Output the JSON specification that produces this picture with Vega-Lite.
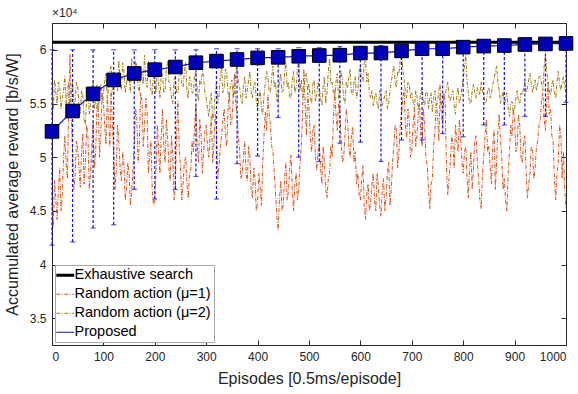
{
 "$schema": "https://vega.github.io/schema/vega-lite/v6.json",
 "width": 514, "height": 322,
 "autosize": "none",
 "padding": {"left": 52, "top": 23, "right": 12, "bottom": 49},
 "background": "white",
 "title": {"text": "×10⁴", "anchor": "start", "frame": "group", "fontSize": 12, "fontWeight": "normal", "color": "#262626", "offset": 3, "font": "Liberation Sans"},
 "config": {
  "font": "Liberation Sans",
  "view": {"stroke": "#262626", "strokeWidth": 1},
  "axis": {"grid": false, "labelFontSize": 12, "labelColor": "#262626", "titleFontSize": 16, "titleFontWeight": "normal", "titleColor": "#262626", "domainColor": "#262626", "tickColor": "#262626", "tickSize": -5, "labelPadding": 11, "labelFont": "Liberation Sans", "titleFont": "Liberation Sans"},
  "legend": {"orient": "none", "legendX": 3, "legendY": 242, "fillColor": "white", "strokeColor": "#a8a8a8", "padding": 3, "labelFontSize": 14.5, "labelColor": "#000000", "labelFont": "Liberation Sans", "symbolType": "stroke", "symbolSize": 320, "rowPadding": 4, "labelOffset": 2, "titlePadding": 0}
 },
 "datasets": {
  "rand": [
{"e":0,"a":4.55,"b":5.6},{"e":5,"a":4.78,"b":5.72},{"e":10,"a":4.42,"b":5.5},{"e":15,"a":4.9,"b":5.68},{"e":20,"a":4.65,"b":5.55},{"e":25,"a":5.2,"b":5.75},{"e":30,"a":4.8,"b":5.62},{"e":35,"a":5.96,"b":5.45},{"e":40,"a":5.05,"b":5.7},{"e":45,"a":4.82,"b":5.52},
{"e":50,"a":5.08,"b":5.65},{"e":55,"a":4.72,"b":5.4},{"e":60,"a":5.22,"b":5.58},{"e":65,"a":4.95,"b":5.3},{"e":70,"a":5.18,"b":5.62},{"e":75,"a":4.85,"b":5.48},{"e":80,"a":5.32,"b":5.7},{"e":85,"a":5.05,"b":5.55},{"e":90,"a":5.45,"b":5.42},{"e":95,"a":5.22,"b":5.68},
{"e":100,"a":5.52,"b":5.6},{"e":105,"a":5.12,"b":5.78},{"e":110,"a":5.38,"b":5.65},{"e":115,"a":5.62,"b":5.85},{"e":120,"a":5.05,"b":5.58},{"e":125,"a":4.88,"b":5.72},{"e":130,"a":5.15,"b":5.9},{"e":135,"a":4.78,"b":5.62},{"e":140,"a":4.92,"b":5.8},{"e":145,"a":4.72,"b":5.68},
{"e":150,"a":4.85,"b":5.75},{"e":155,"a":4.68,"b":5.92},{"e":160,"a":5.1,"b":5.7},{"e":165,"a":5.38,"b":5.85},{"e":170,"a":5.15,"b":5.6},{"e":175,"a":5.52,"b":5.78},{"e":180,"a":5.28,"b":5.95},{"e":185,"a":5.45,"b":5.65},{"e":190,"a":5.02,"b":5.82},{"e":195,"a":4.7,"b":5.58},
{"e":200,"a":4.6,"b":5.7},{"e":205,"a":5.3,"b":5.85},{"e":210,"a":4.85,"b":5.55},{"e":215,"a":5.45,"b":5.78},{"e":220,"a":4.95,"b":5.62},{"e":225,"a":5.18,"b":5.9},{"e":230,"a":4.78,"b":5.68},{"e":235,"a":5.0,"b":5.5},{"e":240,"a":4.72,"b":5.75},{"e":245,"a":5.52,"b":5.6},
{"e":250,"a":4.9,"b":5.82},{"e":255,"a":4.75,"b":5.65},{"e":260,"a":5.0,"b":5.88},{"e":265,"a":4.62,"b":5.55},{"e":270,"a":4.88,"b":5.72},{"e":275,"a":5.05,"b":5.6},{"e":280,"a":5.48,"b":5.8},{"e":285,"a":4.95,"b":5.52},{"e":290,"a":5.22,"b":5.68},{"e":295,"a":5.05,"b":5.75},
{"e":300,"a":5.3,"b":5.55},{"e":305,"a":5.0,"b":5.38},{"e":310,"a":5.38,"b":5.6},{"e":315,"a":5.12,"b":5.42},{"e":320,"a":5.25,"b":5.7},{"e":325,"a":4.92,"b":5.58},{"e":330,"a":5.2,"b":5.85},{"e":335,"a":5.45,"b":5.65},{"e":340,"a":5.1,"b":5.78},{"e":345,"a":5.6,"b":5.55},
{"e":350,"a":5.35,"b":5.72},{"e":355,"a":5.78,"b":5.6},{"e":360,"a":5.4,"b":5.88},{"e":365,"a":5.05,"b":5.65},{"e":370,"a":4.85,"b":5.5},{"e":375,"a":5.15,"b":5.75},{"e":380,"a":4.78,"b":5.62},{"e":385,"a":5.0,"b":5.8},{"e":390,"a":4.62,"b":5.55},{"e":395,"a":4.8,"b":5.7},
{"e":400,"a":4.58,"b":5.45},{"e":405,"a":4.72,"b":5.62},{"e":410,"a":4.95,"b":5.4},{"e":415,"a":5.42,"b":5.68},{"e":420,"a":5.58,"b":5.75},{"e":425,"a":5.3,"b":5.6},{"e":430,"a":5.05,"b":5.85},{"e":435,"a":4.65,"b":5.7},{"e":440,"a":4.32,"b":5.55},{"e":445,"a":4.78,"b":5.78},
{"e":450,"a":4.55,"b":5.62},{"e":455,"a":4.95,"b":5.88},{"e":460,"a":4.68,"b":5.7},{"e":465,"a":5.02,"b":5.55},{"e":470,"a":4.5,"b":5.8},{"e":475,"a":4.85,"b":5.65},{"e":480,"a":4.7,"b":5.9},{"e":485,"a":5.1,"b":5.72},{"e":490,"a":5.82,"b":5.6},{"e":495,"a":5.2,"b":5.78},
{"e":500,"a":5.45,"b":5.68},{"e":505,"a":5.05,"b":5.5},{"e":510,"a":5.3,"b":5.72},{"e":515,"a":4.88,"b":5.58},{"e":520,"a":5.12,"b":5.65},{"e":525,"a":4.75,"b":5.48},{"e":530,"a":4.95,"b":5.75},{"e":535,"a":4.62,"b":5.6},{"e":540,"a":4.85,"b":5.92},{"e":545,"a":5.0,"b":5.7},
{"e":550,"a":5.62,"b":5.55},{"e":555,"a":5.25,"b":5.78},{"e":560,"a":5.45,"b":5.6},{"e":565,"a":4.95,"b":5.72},{"e":570,"a":5.2,"b":5.5},{"e":575,"a":5.35,"b":5.65},{"e":580,"a":5.0,"b":5.82},{"e":585,"a":5.28,"b":5.58},{"e":590,"a":5.05,"b":5.75},{"e":595,"a":4.85,"b":5.62},
{"e":600,"a":4.6,"b":5.85},{"e":605,"a":4.92,"b":5.7},{"e":610,"a":4.42,"b":5.9},{"e":615,"a":4.75,"b":5.78},{"e":620,"a":4.58,"b":5.55},{"e":625,"a":4.85,"b":5.48},{"e":630,"a":4.5,"b":5.6},{"e":635,"a":4.72,"b":5.45},{"e":640,"a":4.45,"b":5.58},{"e":645,"a":4.8,"b":5.52},
{"e":650,"a":4.62,"b":5.62},{"e":655,"a":4.95,"b":5.5},{"e":660,"a":4.7,"b":5.7},{"e":665,"a":5.1,"b":5.85},{"e":670,"a":5.25,"b":5.65},{"e":675,"a":5.05,"b":5.78},{"e":680,"a":5.4,"b":5.98},{"e":685,"a":5.62,"b":5.72},{"e":690,"a":5.18,"b":5.55},{"e":695,"a":5.35,"b":5.68},
{"e":700,"a":5.05,"b":5.6},{"e":705,"a":5.45,"b":5.45},{"e":710,"a":5.2,"b":5.58},{"e":715,"a":5.5,"b":5.52},{"e":720,"a":5.1,"b":5.65},{"e":725,"a":5.3,"b":5.48},{"e":730,"a":4.92,"b":5.6},{"e":735,"a":4.52,"b":5.55},{"e":740,"a":4.8,"b":5.42},{"e":745,"a":5.25,"b":5.62},
{"e":750,"a":5.4,"b":5.5},{"e":755,"a":5.6,"b":5.68},{"e":760,"a":5.28,"b":5.45},{"e":765,"a":5.5,"b":5.58},{"e":770,"a":4.65,"b":5.7},{"e":775,"a":4.95,"b":5.52},{"e":780,"a":5.12,"b":5.62},{"e":785,"a":5.3,"b":5.4},{"e":790,"a":5.05,"b":5.65},{"e":795,"a":5.2,"b":5.55},
{"e":800,"a":4.85,"b":5.72},{"e":805,"a":5.1,"b":5.95},{"e":810,"a":4.62,"b":5.6},{"e":815,"a":5.05,"b":5.5},{"e":820,"a":4.9,"b":5.68},{"e":825,"a":5.2,"b":5.55},{"e":830,"a":4.8,"b":5.62},{"e":835,"a":4.52,"b":5.7},{"e":840,"a":5.0,"b":5.58},{"e":845,"a":5.35,"b":5.52},
{"e":850,"a":5.1,"b":5.65},{"e":855,"a":4.75,"b":5.6},{"e":860,"a":5.25,"b":5.72},{"e":865,"a":4.95,"b":5.85},{"e":870,"a":5.4,"b":5.62},{"e":875,"a":5.0,"b":5.55},{"e":880,"a":4.8,"b":5.48},{"e":885,"a":4.5,"b":5.6},{"e":890,"a":5.05,"b":5.38},{"e":895,"a":5.2,"b":5.52},
{"e":900,"a":5.35,"b":5.45},{"e":905,"a":5.1,"b":5.62},{"e":910,"a":5.3,"b":5.5},{"e":915,"a":4.95,"b":5.58},{"e":920,"a":5.2,"b":5.7},{"e":925,"a":4.62,"b":5.65},{"e":930,"a":4.85,"b":5.78},{"e":935,"a":5.05,"b":5.6},{"e":940,"a":4.9,"b":5.72},{"e":945,"a":5.15,"b":5.68},
{"e":950,"a":5.35,"b":5.75},{"e":955,"a":5.6,"b":5.62},{"e":960,"a":5.25,"b":5.95},{"e":965,"a":5.7,"b":5.7},{"e":970,"a":5.45,"b":5.58},{"e":975,"a":5.15,"b":5.72},{"e":980,"a":4.6,"b":5.55},{"e":985,"a":4.95,"b":5.8},{"e":990,"a":5.2,"b":5.62},{"e":995,"a":5.05,"b":5.75},
{"e":1000,"a":4.52,"b":5.6},
{"e":2.5,"a":4.35,"b":5.45},{"e":7.5,"a":4.6,"b":5.6},{"e":12.5,"a":4.72,"b":5.7},{"e":17.5,"a":4.5,"b":5.45},{"e":22.5,"a":5.0,"b":5.62},{"e":27.5,"a":4.95,"b":5.5},{"e":32.5,"a":5.5,"b":5.7},{"e":37.5,"a":5.4,"b":5.6},{"e":42.5,"a":4.7,"b":5.48},{"e":47.5,"a":5.15,"b":5.7},
{"e":52.5,"a":4.9,"b":5.5},{"e":57.5,"a":5.05,"b":5.62},{"e":62.5,"a":4.75,"b":5.35},{"e":67.5,"a":5.3,"b":5.55},{"e":72.5,"a":4.7,"b":5.4},{"e":77.5,"a":5.1,"b":5.65},{"e":82.5,"a":4.9,"b":5.45},{"e":87.5,"a":5.5,"b":5.68},{"e":92.5,"a":5.0,"b":5.6},{"e":97.5,"a":5.6,"b":5.52},
{"e":102.5,"a":5.3,"b":5.7},{"e":107.5,"a":5.55,"b":5.55},{"e":112.5,"a":5.1,"b":5.8},{"e":117.5,"a":5.3,"b":5.62},{"e":122.5,"a":4.7,"b":5.75},{"e":127.5,"a":5.3,"b":5.62},{"e":132.5,"a":4.9,"b":5.7},{"e":137.5,"a":5.05,"b":5.88},{"e":142.5,"a":4.6,"b":5.6},{"e":147.5,"a":4.95,"b":5.85},
{"e":152.5,"a":4.55,"b":5.6},{"e":157.5,"a":4.9,"b":5.78},{"e":162.5,"a":5.45,"b":5.9},{"e":167.5,"a":4.95,"b":5.65},{"e":172.5,"a":5.6,"b":5.82},{"e":177.5,"a":5.1,"b":5.68},{"e":182.5,"a":5.55,"b":5.72},{"e":187.5,"a":4.85,"b":5.9},{"e":192.5,"a":5.15,"b":5.62},{"e":197.5,"a":4.55,"b":5.8},
{"e":202.5,"a":4.9,"b":5.6},{"e":207.5,"a":5.05,"b":5.68},{"e":212.5,"a":5.2,"b":5.75},{"e":217.5,"a":5.1,"b":5.6},{"e":222.5,"a":5.35,"b":5.82},{"e":227.5,"a":4.9,"b":5.7},{"e":232.5,"a":5.2,"b":5.55},{"e":237.5,"a":4.6,"b":5.72},{"e":242.5,"a":5.25,"b":5.6},{"e":247.5,"a":5.1,"b":5.78},
{"e":252.5,"a":4.6,"b":5.68},{"e":257.5,"a":4.95,"b":5.8},{"e":262.5,"a":4.75,"b":5.62},{"e":267.5,"a":4.85,"b":5.75},{"e":272.5,"a":5.15,"b":5.6},{"e":277.5,"a":5.3,"b":5.78},{"e":282.5,"a":5.1,"b":5.62},{"e":287.5,"a":5.35,"b":5.72},{"e":292.5,"a":4.85,"b":5.8},{"e":297.5,"a":5.25,"b":5.6},
{"e":302.5,"a":5.1,"b":5.45},{"e":307.5,"a":5.2,"b":5.52},{"e":312.5,"a":4.95,"b":5.35},{"e":317.5,"a":5.4,"b":5.6},{"e":322.5,"a":4.8,"b":5.5},{"e":327.5,"a":5.1,"b":5.75},{"e":332.5,"a":5.35,"b":5.6},{"e":337.5,"a":5.2,"b":5.82},{"e":342.5,"a":5.45,"b":5.6},{"e":347.5,"a":5.3,"b":5.68},
{"e":352.5,"a":5.55,"b":5.55},{"e":357.5,"a":5.5,"b":5.78},{"e":362.5,"a":5.2,"b":5.7},{"e":367.5,"a":4.8,"b":5.55},{"e":372.5,"a":5.0,"b":5.68},{"e":377.5,"a":4.85,"b":5.55},{"e":382.5,"a":5.1,"b":5.72},{"e":387.5,"a":4.7,"b":5.6},{"e":392.5,"a":4.9,"b":5.68},{"e":397.5,"a":4.5,"b":5.52},
{"e":402.5,"a":4.85,"b":5.55},{"e":407.5,"a":4.55,"b":5.45},{"e":412.5,"a":5.2,"b":5.58},{"e":417.5,"a":5.25,"b":5.8},{"e":422.5,"a":5.4,"b":5.62},{"e":427.5,"a":5.1,"b":5.75},{"e":432.5,"a":4.85,"b":5.65},{"e":437.5,"a":4.45,"b":5.52},{"e":442.5,"a":4.6,"b":5.7},{"e":447.5,"a":4.5,"b":5.6},
{"e":452.5,"a":4.8,"b":5.78},{"e":457.5,"a":4.6,"b":5.65},{"e":462.5,"a":4.9,"b":5.55},{"e":467.5,"a":4.7,"b":5.72},{"e":472.5,"a":4.75,"b":5.6},{"e":477.5,"a":4.6,"b":5.82},{"e":482.5,"a":4.95,"b":5.62},{"e":487.5,"a":5.4,"b":5.55},{"e":492.5,"a":5.5,"b":5.75},{"e":497.5,"a":5.6,"b":5.62},
{"e":502.5,"a":5.2,"b":5.55},{"e":507.5,"a":5.25,"b":5.68},{"e":512.5,"a":5.0,"b":5.52},{"e":517.5,"a":5.05,"b":5.7},{"e":522.5,"a":4.9,"b":5.55},{"e":527.5,"a":5.1,"b":5.65},{"e":532.5,"a":4.7,"b":5.5},{"e":537.5,"a":4.8,"b":5.8},{"e":542.5,"a":5.1,"b":5.68},{"e":547.5,"a":5.35,"b":5.6},
{"e":552.5,"a":5.4,"b":5.7},{"e":557.5,"a":5.5,"b":5.55},{"e":562.5,"a":5.15,"b":5.8},{"e":567.5,"a":5.0,"b":5.55},{"e":572.5,"a":5.45,"b":5.7},{"e":577.5,"a":5.1,"b":5.75},{"e":582.5,"a":5.2,"b":5.6},{"e":587.5,"a":4.95,"b":5.7},{"e":592.5,"a":4.75,"b":5.55},{"e":597.5,"a":4.65,"b":5.8},
{"e":602.5,"a":4.8,"b":5.75},{"e":607.5,"a":4.55,"b":5.88},{"e":612.5,"a":4.65,"b":5.7},{"e":617.5,"a":4.5,"b":5.6},{"e":622.5,"a":4.75,"b":5.62},{"e":627.5,"a":4.6,"b":5.55},{"e":632.5,"a":4.85,"b":5.5},{"e":637.5,"a":4.55,"b":5.62},{"e":642.5,"a":4.7,"b":5.48},{"e":647.5,"a":4.5,"b":5.58},
{"e":652.5,"a":4.85,"b":5.45},{"e":657.5,"a":4.55,"b":5.62},{"e":662.5,"a":4.95,"b":5.78},{"e":667.5,"a":5.3,"b":5.7},{"e":672.5,"a":4.9,"b":5.8},{"e":677.5,"a":5.3,"b":5.9},{"e":682.5,"a":5.55,"b":5.82},{"e":687.5,"a":5.3,"b":5.6},{"e":692.5,"a":5.45,"b":5.7},{"e":697.5,"a":5.0,"b":5.55},
{"e":702.5,"a":5.3,"b":5.52},{"e":707.5,"a":5.1,"b":5.62},{"e":712.5,"a":5.4,"b":5.45},{"e":717.5,"a":5.2,"b":5.6},{"e":722.5,"a":5.45,"b":5.52},{"e":727.5,"a":5.0,"b":5.62},{"e":732.5,"a":4.7,"b":5.45},{"e":737.5,"a":4.75,"b":5.6},{"e":742.5,"a":5.1,"b":5.55},{"e":747.5,"a":5.5,"b":5.48},
{"e":752.5,"a":5.15,"b":5.62},{"e":757.5,"a":5.4,"b":5.5},{"e":762.5,"a":5.6,"b":5.55},{"e":767.5,"a":4.9,"b":5.65},{"e":772.5,"a":4.8,"b":5.55},{"e":777.5,"a":5.2,"b":5.6},{"e":782.5,"a":4.9,"b":5.48},{"e":787.5,"a":5.15,"b":5.58},{"e":792.5,"a":5.35,"b":5.5},{"e":797.5,"a":4.95,"b":5.65},
{"e":802.5,"a":5.05,"b":5.85},{"e":807.5,"a":4.8,"b":5.7},{"e":812.5,"a":4.9,"b":5.5},{"e":817.5,"a":4.7,"b":5.62},{"e":822.5,"a":5.15,"b":5.6},{"e":827.5,"a":4.95,"b":5.65},{"e":832.5,"a":4.6,"b":5.58},{"e":837.5,"a":4.85,"b":5.6},{"e":842.5,"a":5.2,"b":5.5},{"e":847.5,"a":5.05,"b":5.62},
{"e":852.5,"a":4.9,"b":5.55},{"e":857.5,"a":5.1,"b":5.68},{"e":862.5,"a":4.7,"b":5.8},{"e":867.5,"a":5.25,"b":5.7},{"e":872.5,"a":5.15,"b":5.5},{"e":877.5,"a":4.7,"b":5.62},{"e":882.5,"a":4.6,"b":5.55},{"e":887.5,"a":4.85,"b":5.45},{"e":892.5,"a":5.3,"b":5.5},{"e":897.5,"a":5.45,"b":5.42},
{"e":902.5,"a":5.05,"b":5.55},{"e":907.5,"a":5.4,"b":5.52},{"e":912.5,"a":5.0,"b":5.6},{"e":917.5,"a":5.15,"b":5.65},{"e":922.5,"a":4.85,"b":5.6},{"e":927.5,"a":4.75,"b":5.72},{"e":932.5,"a":5.1,"b":5.68},{"e":937.5,"a":4.8,"b":5.66},{"e":942.5,"a":5.1,"b":5.62},{"e":947.5,"a":5.3,"b":5.75},
{"e":952.5,"a":5.55,"b":5.68},{"e":957.5,"a":5.35,"b":5.85},{"e":962.5,"a":5.5,"b":5.82},{"e":967.5,"a":5.4,"b":5.62},{"e":972.5,"a":5.2,"b":5.68},{"e":977.5,"a":4.8,"b":5.6},{"e":982.5,"a":4.85,"b":5.7},{"e":987.5,"a":5.3,"b":5.68},{"e":992.5,"a":4.8,"b":5.7},{"e":997.5,"a":4.7,"b":5.65}
  ],
  "prop": [
{"e":0,"m":5.24,"lo":4.18,"hi":6.0},{"e":40,"m":5.43,"lo":4.21,"hi":6.0},{"e":80,"m":5.59,"lo":4.34,"hi":6.0},{"e":120,"m":5.72,"lo":4.37,"hi":6.0},{"e":160,"m":5.78,"lo":4.7,"hi":6.0},{"e":200,"m":5.815,"lo":4.61,"hi":6.0},{"e":240,"m":5.84,"lo":4.7,"hi":6.0},{"e":280,"m":5.88,"lo":4.82,"hi":6.0},{"e":320,"m":5.895,"lo":4.61,"hi":6.01},{"e":360,"m":5.91,"lo":4.94,"hi":6.01},{"e":400,"m":5.925,"lo":5.01,"hi":6.01},{"e":440,"m":5.93,"lo":5.37,"hi":6.01},{"e":480,"m":5.94,"lo":5.0,"hi":6.02},{"e":520,"m":5.947,"lo":4.96,"hi":6.02},{"e":560,"m":5.95,"lo":5.13,"hi":6.03},{"e":600,"m":5.97,"lo":5.14,"hi":6.03},{"e":640,"m":5.97,"lo":4.96,"hi":6.04},{"e":680,"m":5.99,"lo":5.16,"hi":6.04},{"e":720,"m":6.01,"lo":5.16,"hi":6.05},{"e":760,"m":6.01,"lo":5.22,"hi":6.05},{"e":800,"m":6.025,"lo":5.19,"hi":6.06},{"e":840,"m":6.035,"lo":5.3,"hi":6.06},{"e":880,"m":6.04,"lo":5.3,"hi":6.06},{"e":920,"m":6.05,"lo":5.38,"hi":6.07},{"e":960,"m":6.055,"lo":5.38,"hi":6.07},{"e":1000,"m":6.06,"lo":5.51,"hi":6.08}
  ],
  "exh": [{"e":0,"v":6.07},{"e":1000,"v":6.07}]
 },
 "resolve": {"axis": {"x": "independent", "y": "independent"}},
 "layer": [
  {
   "data": {"name": "rand"},
   "mark": {"type": "line", "clip": true, "strokeWidth": 1},
   "encoding": {
    "x": {"field": "e", "type": "quantitative", "scale": {"domain": [0, 1000], "nice": false},
          "axis": {"title": "Episodes [0.5ms/episode]", "values": [0,100,200,300,400,500,600,700,800,900,1000], "format": "d", "titlePadding": 8}},
    "y": {"field": "a", "type": "quantitative", "scale": {"domain": [3.25, 6.25], "nice": false, "zero": false},
          "axis": {"title": "Accumulated average reward [b/s/W]", "values": [3.5,4,4.5,5,5.5,6], "format": "~g", "titlePadding": 9}},
    "color": {"datum": "Random action (μ=1)", "type": "nominal", "title": null,
              "scale": {"domain": ["Exhaustive search", "Random action (μ=1)", "Random action (μ=2)", "Proposed"], "range": ["#000000", "#D95319", "#A07A12", "#1010C8"]},
              "legend": {"encode": {"symbols": {"update": {"strokeWidth": {"signal": "datum.value === 'Exhaustive search' ? 3 : 1.2"}}}}}},
    "strokeDash": {"datum": "Random action (μ=1)", "type": "nominal", "title": null,
              "scale": {"domain": ["Exhaustive search", "Random action (μ=1)", "Random action (μ=2)", "Proposed"], "range": [[1,0],[4,1.5,1,1.5],[4,1.5,1,1.5],[1,0]]}}
   }
  },
  {
   "data": {"name": "rand"},
   "mark": {"type": "line", "clip": true, "strokeWidth": 1},
   "encoding": {
    "x": {"field": "e", "type": "quantitative", "axis": null},
    "y": {"field": "b", "type": "quantitative", "axis": null},
    "color": {"datum": "Random action (μ=2)", "type": "nominal", "title": null},
    "strokeDash": {"datum": "Random action (μ=2)", "type": "nominal", "title": null}
   }
  },
  {
   "data": {"name": "prop"},
   "mark": {"type": "rule", "color": "#1414E0", "strokeWidth": 1.2, "strokeDash": [3, 2]},
   "encoding": {
    "x": {"field": "e", "type": "quantitative", "axis": null},
    "y": {"field": "lo", "type": "quantitative", "axis": null},
    "y2": {"field": "hi"}
   }
  },
  {
   "data": {"name": "prop"},
   "mark": {"type": "tick", "orient": "horizontal", "color": "#1414E0", "size": 5, "thickness": 1.2},
   "encoding": {
    "x": {"field": "e", "type": "quantitative", "axis": null},
    "y": {"field": "lo", "type": "quantitative", "axis": null}
   }
  },
  {
   "data": {"name": "prop"},
   "mark": {"type": "tick", "orient": "horizontal", "color": "#1414E0", "size": 5, "thickness": 1.2},
   "encoding": {
    "x": {"field": "e", "type": "quantitative", "axis": null},
    "y": {"field": "hi", "type": "quantitative", "axis": null}
   }
  },
  {
   "data": {"name": "exh"},
   "mark": {"type": "line", "strokeWidth": 3},
   "encoding": {
    "x": {"field": "e", "type": "quantitative", "axis": {"orient": "top", "labels": false, "title": null, "values": [0,100,200,300,400,500,600,700,800,900,1000]}},
    "y": {"field": "v", "type": "quantitative", "axis": {"orient": "right", "labels": false, "title": null, "values": [3.5,4,4.5,5,5.5,6]}},
    "color": {"datum": "Exhaustive search", "type": "nominal", "title": null},
    "strokeDash": {"datum": "Exhaustive search", "type": "nominal", "title": null}
   }
  },
  {
   "data": {"name": "prop"},
   "mark": {"type": "line", "strokeWidth": 1.2},
   "encoding": {
    "x": {"field": "e", "type": "quantitative", "axis": null},
    "y": {"field": "m", "type": "quantitative", "axis": null},
    "color": {"datum": "Proposed", "type": "nominal", "title": null},
    "strokeDash": {"datum": "Proposed", "type": "nominal", "title": null}
   }
  },
  {
   "data": {"name": "prop"},
   "mark": {"type": "point", "shape": "square", "filled": true, "size": 185, "color": "#0000B8", "stroke": "#000000", "strokeWidth": 1, "opacity": 1},
   "encoding": {
    "x": {"field": "e", "type": "quantitative", "axis": null},
    "y": {"field": "m", "type": "quantitative", "axis": null}
   }
  }
 ]
}
